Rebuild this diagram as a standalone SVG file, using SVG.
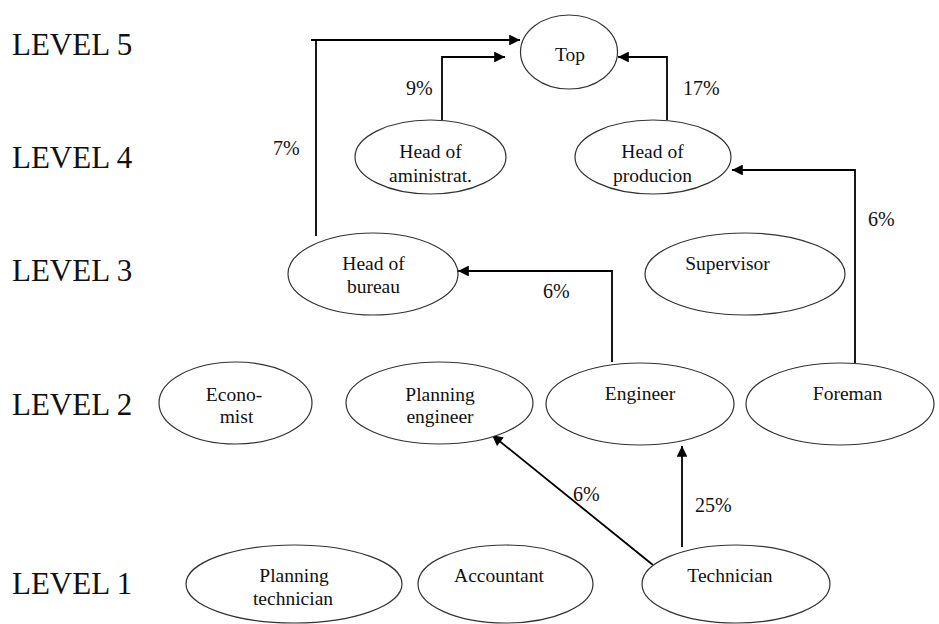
<svg xmlns="http://www.w3.org/2000/svg" width="939" height="624" viewBox="0 0 939 624">
<defs>
<marker id="ah" viewBox="0 0 10 10" refX="10" refY="5" markerWidth="6.5" markerHeight="6" orient="auto" markerUnits="strokeWidth">
<path d="M0,0 L10,5 L0,10 z" fill="#000"/>
</marker>
<style>
.n ellipse{fill:#fff;stroke:#333;stroke-width:1.2}
.n text{font-family:"Liberation Serif","Times New Roman",serif;font-size:19.5px;fill:#111;text-anchor:middle}
.lvl{font-family:"Liberation Serif","Times New Roman",serif;font-size:31px;fill:#111}
.pct{font-family:"Liberation Serif","Times New Roman",serif;font-size:20px;fill:#111}
.c{fill:none;stroke:#000;stroke-width:1.8}
.c.a{marker-end:url(#ah)}
</style>
</defs>
<rect width="939" height="624" fill="#fff"/>
<g id="levels" font-family="Liberation Serif, serif">
<text class="lvl" x="12" y="55">LEVEL 5</text>
<text class="lvl" x="12" y="168">LEVEL 4</text>
<text class="lvl" x="12" y="281">LEVEL 3</text>
<text class="lvl" x="12" y="415">LEVEL 2</text>
<text class="lvl" x="12" y="594">LEVEL 1</text>
</g>
<g id="connectors" font-family="Liberation Serif, serif">
<path class="c" d="M316,236 V40"/>
<path class="c a" d="M311,40 H520"/>
<path class="c a" d="M442,120 V57 H505"/>
<path class="c a" d="M667,120 V57 H618"/>
<path class="c a" d="M855,363 V170 H732"/>
<path class="c a" d="M612,362 V271 H458"/>
<path class="c a" d="M682,547 V446"/>
<path class="c a" d="M653,565 L492,435"/>
<text class="pct" x="273" y="155">7%</text>
<text class="pct" x="406" y="95">9%</text>
<text class="pct" x="683" y="95">17%</text>
<text class="pct" x="868" y="226">6%</text>
<text class="pct" x="543" y="298">6%</text>
<text class="pct" x="573" y="501">6%</text>
<text class="pct" x="695" y="512">25%</text>
</g>
<g id="top" class="n" font-family="Liberation Serif, serif"><ellipse cx="569" cy="52" rx="48.5" ry="37"/><text x="570" y="61">Top</text></g>
<g id="head-admin" class="n" font-family="Liberation Serif, serif"><ellipse cx="430.5" cy="157" rx="75.5" ry="37"/><text x="430.5" y="158">Head of</text><text x="430.5" y="182">aministrat.</text></g>
<g id="head-prod" class="n" font-family="Liberation Serif, serif"><ellipse cx="653" cy="157" rx="78" ry="37"/><text x="652.5" y="158">Head of</text><text x="652.5" y="182">producion</text></g>
<g id="head-bureau" class="n" font-family="Liberation Serif, serif"><ellipse cx="373" cy="274" rx="85" ry="41"/><text x="373.5" y="270">Head of</text><text x="373.5" y="293">bureau</text></g>
<g id="supervisor" class="n" font-family="Liberation Serif, serif"><ellipse cx="745" cy="274" rx="100" ry="41"/><text x="727.5" y="270">Supervisor</text></g>
<g id="economist" class="n" font-family="Liberation Serif, serif"><ellipse cx="235.5" cy="403" rx="76.5" ry="41"/><text x="234" y="401">Econo-</text><text x="236.5" y="423">mist</text></g>
<g id="planning-engineer" class="n" font-family="Liberation Serif, serif"><ellipse cx="439.5" cy="403" rx="93.5" ry="41"/><text x="440" y="401">Planning</text><text x="440" y="423">engineer</text></g>
<g id="engineer" class="n" font-family="Liberation Serif, serif"><ellipse cx="640" cy="404" rx="94" ry="41"/><text x="640" y="400">Engineer</text></g>
<g id="foreman" class="n" font-family="Liberation Serif, serif"><ellipse cx="840" cy="404" rx="94" ry="41"/><text x="847.5" y="400">Foreman</text></g>
<g id="planning-technician" class="n" font-family="Liberation Serif, serif"><ellipse cx="294" cy="584" rx="108" ry="39"/><text x="294" y="582">Planning</text><text x="293" y="605">technician</text></g>
<g id="accountant" class="n" font-family="Liberation Serif, serif"><ellipse cx="505.5" cy="584" rx="87.5" ry="39"/><text x="499" y="582">Accountant</text></g>
<g id="technician" class="n" font-family="Liberation Serif, serif"><ellipse cx="736" cy="584" rx="94" ry="39"/><text x="730" y="582">Technician</text></g>
</svg>
